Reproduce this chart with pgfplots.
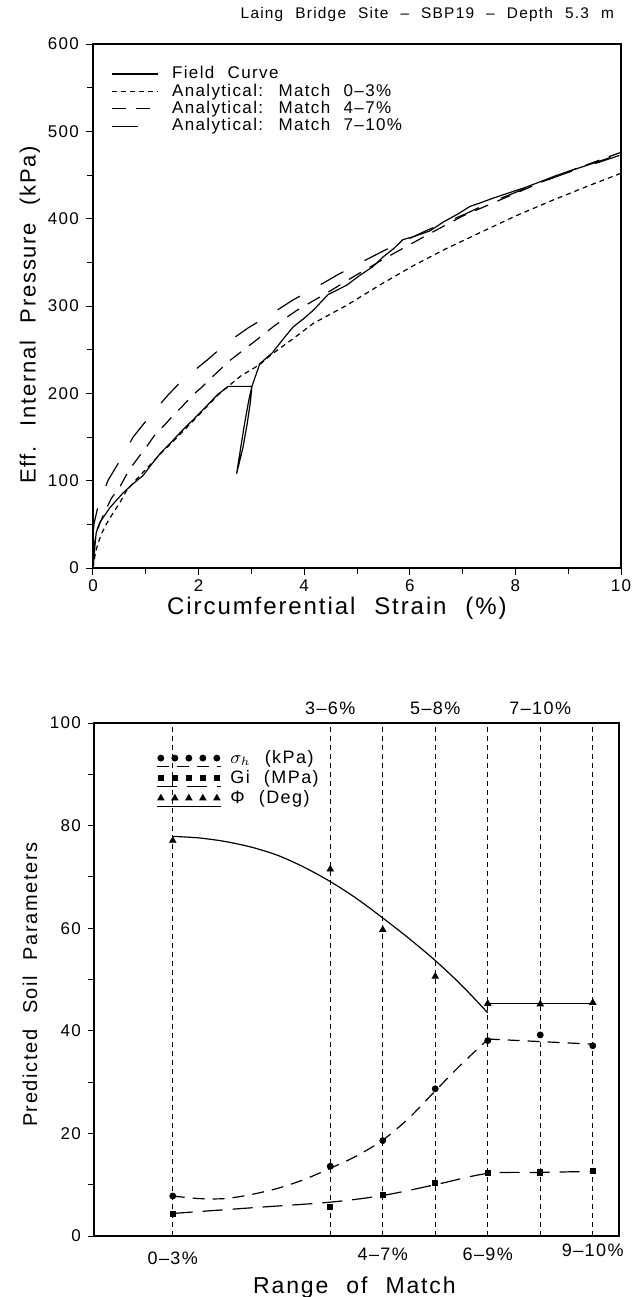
\documentclass[border=0pt]{standalone}
\usepackage{fontspec}
\setmainfont{Liberation Sans}[LetterSpace=8,WordSpace=2.2]
\usepackage{pgfplots}
\pgfplotsset{compat=1.18}

\newcommand{\fs}[1]{\fontsize{#1}{#1}\selectfont}

\pgfplotsset{
  oldplot/.style={
    scale only axis, clip=false,
    axis line style={line width=0.6pt},
    every tick/.style={black, line width=0.5pt},
    major tick length=3.5pt, minor tick length=3pt,
    tick align=outside, xtick pos=bottom, ytick pos=left,
    /pgf/number format/assume math mode=true,
    ticklabel style={font=\fs{8.5}},
    label style={font=\fs{12}},
    legend cell align=left,
  },
  % five marks over a line, as in the lower legend
  markrow/.style={legend image code/.code={
    \draw[##1] plot coordinates {(0pt,0pt) (7pt,0pt) (14pt,0pt) (21pt,0pt) (28pt,0pt)};
    \draw[black, line width=0.5pt, #1] (-2pt,-4pt) -- (30pt,-4pt);}},
}

\begin{document}
\begin{tikzpicture}
\useasboundingbox (0pt,0pt) rectangle (317pt,-648.5pt);
\node[anchor=east, font=\fs{7.7}] at (310.5pt,-7.5pt) {Laing Bridge Site – SBP19 – Depth 5.3 m};

% top: pressure vs strain
\begin{axis}[oldplot, at={(46.5pt,-284pt)}, anchor=south west, width=264pt, height=262pt,
  xmin=0, xmax=10, ymin=0, ymax=600,
  xtick={0,2,...,10}, minor xtick={1,3,...,9},
  ytick={0,100,...,600}, minor ytick={50,150,...,550},
  xticklabel style={yshift=1pt},
  xlabel={Circumferential Strain (\%)}, ylabel={Eff. Internal Pressure (kPa)},
  xlabel style={at={(axis description cs:0.462,-0.076)}, anchor=center},
  ylabel style={at={(axis description cs:-0.1193,0.483)}, anchor=center, font=\fs{11}},
  legend style={draw=none, fill=none, at={(axis description cs:0.035,0.96)}, anchor=north west,
    font=\fs{8.5}, row sep=0pt, inner sep=0pt, column sep=6pt,
    nodes={inner sep=0.5pt, text height=6.2pt, text depth=1.5pt}},
  legend image code/.code={\draw[#1] (0pt,0pt) -- (23pt,0pt);},
]
\addplot[black, line width=0.6pt] coordinates {
 (0,0) (0.02,12) (0.04,28) (0.06,40) (0.1,48) (0.16,55) (0.24,62) (0.32,69) (0.45,78) (0.57,86)
 (0.75,96) (0.95,106) (1.1,118) (1.27,131) (1.45,142) (1.65,155) (1.9,170) (2.16,186) (2.35,198)
 (2.56,208) (3.01,208) (2.98,190) (2.92,165) (2.84,138) (2.72,108) (2.79,135) (2.87,165) (2.95,192)
 (3.01,208) (3.16,234) (3.39,246) (3.6,262) (3.79,276) (4.0,286) (4.17,295) (4.45,313) (4.81,324)
 (5.05,335) (5.30,345) (5.49,356) (5.7,366) (5.87,376) (6.1,380) (6.38,386) (6.63,396) (6.9,405)
 (7.14,414) (7.33,418) (7.6,424) (7.9,430) (8.2,436) (8.5,443) (8.8,450) (9.1,456) (9.4,462)
 (9.6,466) (9.8,470)};
\addlegendentry{Field Curve}
\addplot[black, line width=0.6pt, dash pattern=on 2.5pt off 2pt] coordinates {
 (0,0) (0.03,12) (0.07,23) (0.15,38) (0.25,50) (0.38,63) (0.5,74) (0.64,89) (0.8,100) (1.0,113)
 (1.3,132) (1.6,150) (2.0,175) (2.4,200) (2.56,208) (2.8,220) (3.16,233) (3.39,245) (3.8,263)
 (4.17,280) (4.81,301) (5.43,324) (6.06,346) (6.7,366) (7.33,384) (8,403) (8.7,421) (9.4,438) (10,452)};
\addlegendentry{Analytical: Match 0–3\%}
\addplot[black, line width=0.6pt, dash pattern=on 7pt off 5pt] coordinates {
 (0,18.5) (0.05,35) (0.12,50) (0.22,64) (0.35,80) (0.51,93) (0.68,112) (0.89,129) (1.04,141)
 (1.2,155) (1.36,164) (1.52,175) (1.69,185) (1.87,197) (2.06,207) (2.28,220) (2.6,238) (3.03,258)
 (3.45,278) (3.86,295) (4.43,315) (5.0,336) (5.57,356) (6.38,383) (7.0,403) (7.5,416) (8.0,429)
 (8.5,442) (9.0,454) (9.5,465) (10,476)};
\addlegendentry{Analytical: Match 4–7\%}
\addplot[black, line width=0.6pt, dash pattern=on 13pt off 12pt] coordinates {
 (0,39) (0.02,51) (0.1,72) (0.29,101) (0.55,127) (0.76,150) (1.12,177) (1.42,198) (1.69,215)
 (2.16,238) (2.54,258) (2.94,275) (3.35,290) (3.79,307) (4.24,322) (4.64,336) (5.11,351)
 (5.53,364) (5.81,372) (6.3,386) (7,404) (7.5,418) (8,430) (8.5,442) (9,453) (9.5,463) (10,473)};
\addlegendentry{Analytical: Match 7–10\%}
\end{axis}

% bottom: parameters vs range of match
\begin{axis}[oldplot, at={(47pt,-618pt)}, anchor=south west, width=262.5pt, height=256.5pt,
  xmin=0, xmax=10, ymin=0, ymax=100, xtick=\empty,
  ytick={0,20,...,100}, minor ytick={10,30,...,90},
  major tick length=3pt, minor tick length=3pt,
  xlabel={Range of Match}, ylabel={Predicted Soil Parameters},
  xlabel style={at={(axis description cs:0.496,-0.101)}, anchor=center, font=\fs{11.5}},
  ylabel style={at={(axis description cs:-0.122,0.49)}, anchor=center, font=\fs{10}},
  legend style={draw=none, fill=none, at={(axis description cs:0.118,0.95)}, anchor=north west,
    font=\fs{9}, row sep=1pt, inner sep=0pt, column sep=4pt, nodes={inner sep=0.5pt}},
]
\addplot[ycomb, black, line width=0.5pt, dash pattern=on 2.5pt off 2pt, forget plot] coordinates {
 (1.5,100) (4.5,100) (5.5,100) (6.5,100) (7.5,100) (8.5,100) (9.5,100)};
% fitted curves
\addplot[black, line width=0.6pt, smooth, forget plot] coordinates {
 (1.5,77.9) (2.0,77.6) (2.5,76.9) (3.0,75.8) (3.5,74.2) (4.0,71.9) (4.5,69.1) (5.0,65.8)
 (5.5,62.0) (6.0,58.0) (6.5,53.7) (7.0,48.9) (7.5,43.5)};
\addplot[black, line width=0.6pt, forget plot] coordinates {(7.5,45.3) (8.5,45.3) (9.5,45.3)};
\addplot[black, line width=0.6pt, smooth, dash pattern=on 6pt off 4pt, forget plot] coordinates {
 (1.5,7.8) (2.0,7.3) (2.5,7.3) (3.0,8.1) (3.5,9.3) (4.0,11.0) (4.5,13.2) (5.0,15.6) (5.5,18.7)
 (6.0,23.0) (6.5,28.3) (7.0,33.5) (7.5,38.3)};
\addplot[black, line width=0.6pt, dash pattern=on 6pt off 4pt, forget plot] coordinates {
 (7.5,38.4) (9.5,37.4)};
\addplot[black, line width=0.6pt, smooth, dash pattern=on 10pt off 5pt, forget plot] coordinates {
 (1.5,4.4) (3.0,5.5) (4.5,6.6) (5.5,7.9) (6.5,10.0) (7.5,12.2) (8.5,12.4) (9.5,12.6)};
% estimated points
\addplot[only marks, black, mark=*, mark size=1.5pt, markrow={dash pattern=on 6pt off 4pt}]
 coordinates {(1.5,7.8) (4.5,13.6) (5.5,18.6) (6.5,28.7) (7.5,38.1) (8.5,39.2) (9.5,37.1)};
\addlegendentry{$\sigma_h$ (kPa)}
\addplot[only marks, black, mark=square*, mark size=1.3pt, markrow={dash pattern=on 10pt off 5pt}]
 coordinates {(1.5,4.3) (4.5,5.6) (5.5,8.0) (6.5,10.4) (7.5,12.3) (8.5,12.4) (9.5,12.7)};
\addlegendentry{Gi (MPa)}
\addplot[only marks, black, mark=triangle*, mark size=1.8pt, markrow={solid}]
 coordinates {(1.5,77.1) (4.5,71.5) (5.5,59.7) (6.5,50.6) (7.5,45.3) (8.5,45.2) (9.5,45.5)};
\addlegendentry{Φ (Deg)}
% range labels
\node[font=\fs{9}] at (axis cs:1.5,0) [yshift=-11pt] {0–3\%};
\node[font=\fs{9}] at (axis cs:5.5,0) [yshift=-9pt] {4–7\%};
\node[font=\fs{9}] at (axis cs:7.5,0) [yshift=-9pt] {6–9\%};
\node[font=\fs{9}] at (axis cs:9.5,0) [yshift=-7pt] {9–10\%};
\node[font=\fs{9}] at (axis cs:4.5,100) [yshift=7.5pt] {3–6\%};
\node[font=\fs{9}] at (axis cs:6.5,100) [yshift=7.5pt] {5–8\%};
\node[font=\fs{9}] at (axis cs:8.5,100) [yshift=7.5pt] {7–10\%};
\end{axis}
\end{tikzpicture}
\end{document}
